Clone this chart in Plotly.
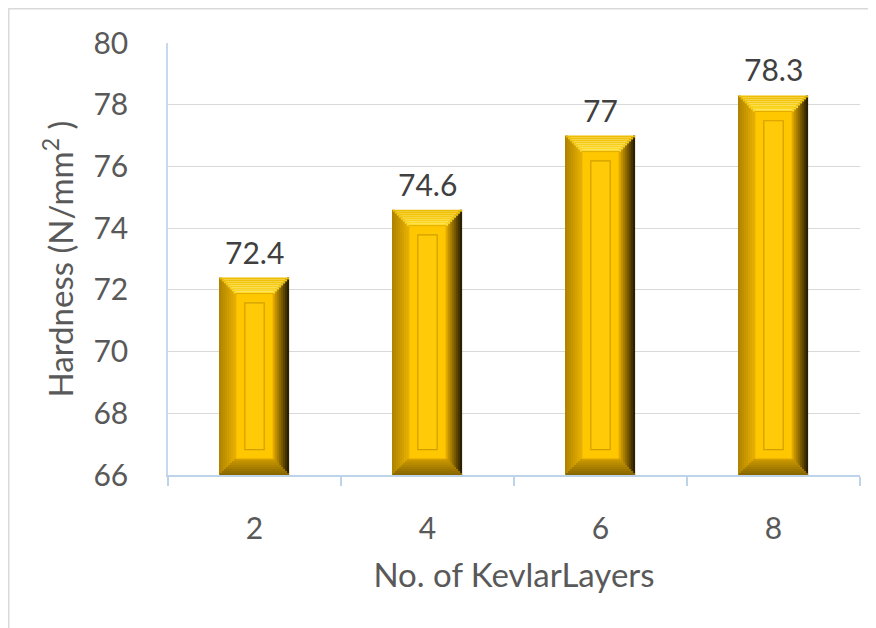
import plotly.graph_objects as go

categories = ["2", "4", "6", "8"]
hardness = [72.4, 74.6, 77.0, 78.3]
y_ticks = [66, 68, 70, 72, 74, 76, 78, 80]
x_title = "No. of KevlarLayers"
y_title = "Hardness (N/mm<sup>2</sup> )"

Y0 = 66.0
W = 0.40          # bar width (category units)
BX = 0.092        # bevel thickness, x
BY = 0.52         # bevel thickness, y
N = 8             # bevel gradient steps
FONT = "Lato"
TICK_SIZE = 30
TITLE_SIZE = 33


def mix(c1, c2, t):
    a = [int(c1[i:i + 2], 16) for i in (1, 3, 5)]
    b = [int(c2[i:i + 2], 16) for i in (1, 3, 5)]
    return "#" + "".join(f"{round(a[k] + (b[k] - a[k]) * t):02x}" for k in range(3))


side_cols = {
    "left": ("#b08400", "#e2ad00"),
    "right": ("#2a1f00", "#d8a200"),
    "top": ("#eebd00", "#ffdc2a"),
    "bottom": ("#8a6800", "#c99700"),
}

fig = go.Figure()
dx = BX / N
dy = BY / N
for i in range(N):
    t = i / (N - 1)
    heights = [(v - i * dy) - (Y0 + i * dy) for v in hardness]
    bases = [Y0 + i * dy] * len(hardness)
    fig.add_trace(go.Bar(x=categories, y=heights, base=bases, offset=-W / 2 + i * dx, width=dx,
                         marker=dict(color=mix(*side_cols["left"], t), line=dict(width=0)),
                         hoverinfo="skip", showlegend=False))
    fig.add_trace(go.Bar(x=categories, y=heights, base=bases, offset=W / 2 - (i + 1) * dx, width=dx,
                         marker=dict(color=mix(*side_cols["right"], t), line=dict(width=0)),
                         hoverinfo="skip", showlegend=False))
    fig.add_trace(go.Bar(x=categories, y=[dy] * len(hardness), base=[v - (i + 1) * dy for v in hardness],
                         offset=-W / 2 + i * dx, width=W - 2 * i * dx,
                         marker=dict(color=mix(*side_cols["top"], t), line=dict(width=0)),
                         hoverinfo="skip", showlegend=False))
    fig.add_trace(go.Bar(x=categories, y=[dy] * len(hardness), base=bases,
                         offset=-W / 2 + i * dx, width=W - 2 * i * dx,
                         marker=dict(color=mix(*side_cols["bottom"], t), line=dict(width=0)),
                         hoverinfo="skip", showlegend=False))

# face
fig.add_trace(go.Bar(x=categories, y=[v - Y0 - 2 * BY for v in hardness], base=[Y0 + BY] * len(hardness),
                     offset=-W / 2 + BX, width=W - 2 * BX,
                     marker=dict(color="#ffc700", line=dict(color="#e3aa00", width=1)),
                     hoverinfo="skip", showlegend=False))
# inner panel
IX = 0.052
IY = 0.30
fig.add_trace(go.Bar(x=categories, y=[v - Y0 - 2 * BY - 2 * IY for v in hardness],
                     base=[Y0 + BY + IY] * len(hardness),
                     offset=-W / 2 + BX + IX, width=W - 2 * BX - 2 * IX,
                     marker=dict(color="#ffca08", line=dict(color="#d29e00", width=1.2)),
                     hoverinfo="skip", showlegend=False))

# value labels (x given as category index on the category axis)
annotations = [dict(x=idx, y=v, xref="x", yref="y", text=f"{v:g}", showarrow=False,
                    yanchor="bottom", yshift=6,
                    font=dict(family=FONT, size=TICK_SIZE, color="#404040"))
               for idx, v in enumerate(hardness)]

# page body offsets the figure by ~8px; plot area placed to match reference
L, T, PW, PH = 160, 35, 692, 432
fig.update_layout(
    width=876, height=628,
    barmode="overlay",
    paper_bgcolor="white", plot_bgcolor="white",
    margin=dict(l=L, r=876 - L - PW, t=T, b=628 - T - PH, autoexpand=False),
    font=dict(family=FONT, color="#595959", size=TICK_SIZE),
    showlegend=False,
    annotations=annotations,
    xaxis=dict(
        type="category", range=[-0.5, 3.5],
        showline=True, linecolor="#bdd3ea", linewidth=2,
        ticks="outside", tickson="boundaries", ticklen=9, tickcolor="#bdd3ea", tickwidth=1.5,
        ticklabelstandoff=26,
        tickfont=dict(family=FONT, size=TICK_SIZE, color="#595959"),
        showgrid=False, automargin=False,
        title=dict(text=x_title, font=dict(family=FONT, size=TITLE_SIZE, color="#595959"), standoff=20),
    ),
    yaxis=dict(
        range=[66, 80], tickvals=y_ticks,
        showline=True, linecolor="#c6d9ee", linewidth=1.5,
        showgrid=True, gridcolor="#d9d9d9", gridwidth=1,
        ticks="", ticklabelstandoff=32,
        tickfont=dict(family=FONT, size=TICK_SIZE, color="#595959"),
        zeroline=False, automargin=False,
        title=dict(text=y_title, font=dict(family=FONT, size=TITLE_SIZE, color="#595959"), standoff=10),
    ),
    shapes=[dict(type="rect", xref="paper", yref="paper",
                 x0=(0.75 - L) / PW, x1=(900 - L) / PW,
                 y0=(T + PH - 700) / PH, y1=(T + PH - 0.75) / PH,
                 line=dict(color="#d9d9d9", width=1.5), layer="below")],
)

fig.write_html("out.html")
